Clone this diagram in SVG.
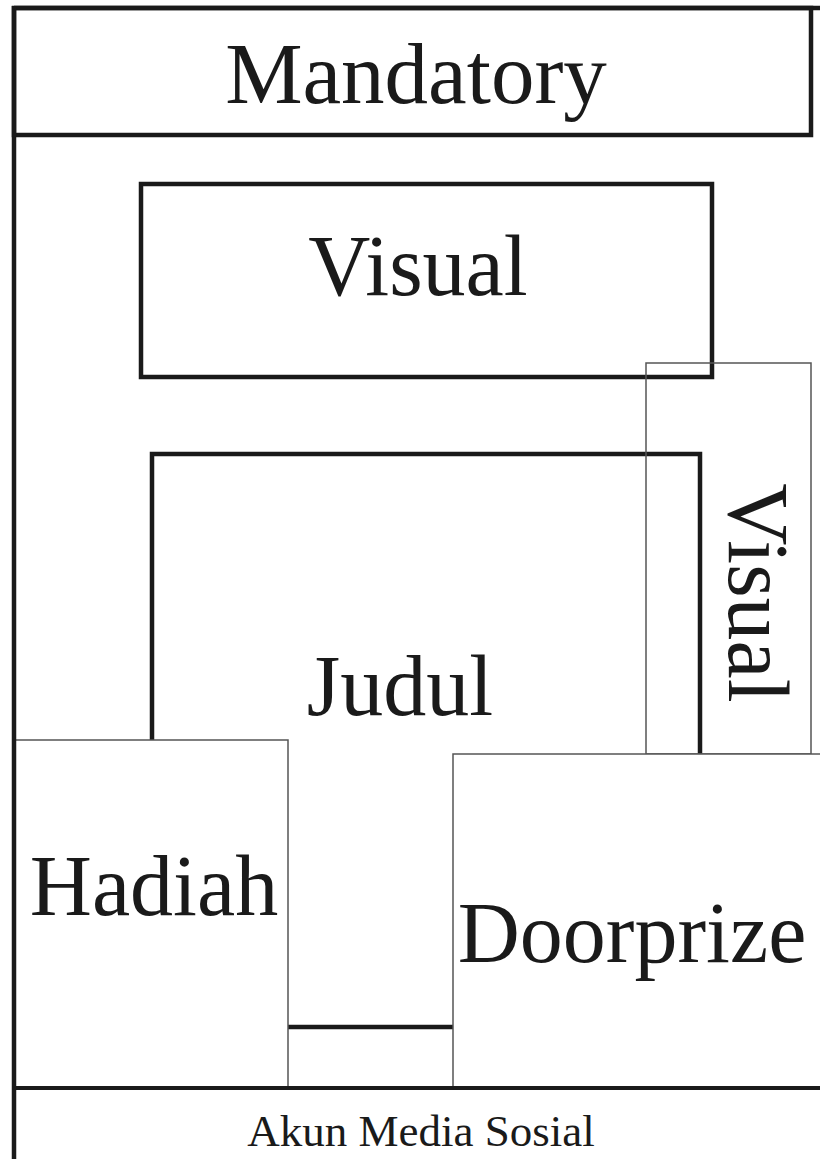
<svg xmlns="http://www.w3.org/2000/svg" width="820" height="1159" viewBox="0 0 820 1159">
<style>
.thick{fill:none;stroke:#1a1a1a;stroke-width:4.5}
.thin{fill:none;stroke:#555;stroke-width:1.5}
.box{fill:#fff;stroke:#555;stroke-width:1.5}
.lbl{font-family:"Liberation Serif","Times New Roman",serif;font-size:86px;fill:#1a1a1a;text-anchor:middle}
.sm{font-family:"Liberation Serif","Times New Roman",serif;font-size:45px;fill:#1a1a1a;text-anchor:middle}
</style>
<rect width="820" height="1159" fill="#fff"/>
<g id="mandatory">
<line class="thick" x1="14" y1="8" x2="820" y2="8"/>
<rect class="thick" x="14" y="8" width="797" height="127"/>
<text class="lbl" x="416" y="103" style="font-size:87px">Mandatory</text>
</g>
<g id="visual-top">
<rect class="thick" x="141" y="184" width="571" height="193"/>
<text class="lbl" x="418" y="295">Visual</text>
</g>
<g id="judul">
<rect class="thick" x="152" y="454" width="548" height="573"/>
<text class="lbl" x="400" y="715">Judul</text>
</g>
<g id="visual-side">
<rect class="thin" x="646" y="363" width="165" height="391"/>
<text class="lbl" transform="translate(729,593) rotate(90)" x="0" y="0">Visual</text>
</g>
<g id="hadiah">
<rect class="box" x="14" y="740" width="274" height="348"/>
<text class="lbl" x="154" y="915">Hadiah</text>
</g>
<g id="doorprize">
<rect class="box" x="453" y="754" width="380" height="334"/>
<text class="lbl" x="632" y="962">Doorprize</text>
</g>
<g id="akun">
<line class="thick" x1="14" y1="1088" x2="820" y2="1088" style="stroke-width:4"/>
<text class="sm" x="421" y="1146">Akun Media Sosial</text>
</g>
<g id="connectors">
<line class="thick" x1="14" y1="6" x2="14" y2="1159"/>
</g>
</svg>
